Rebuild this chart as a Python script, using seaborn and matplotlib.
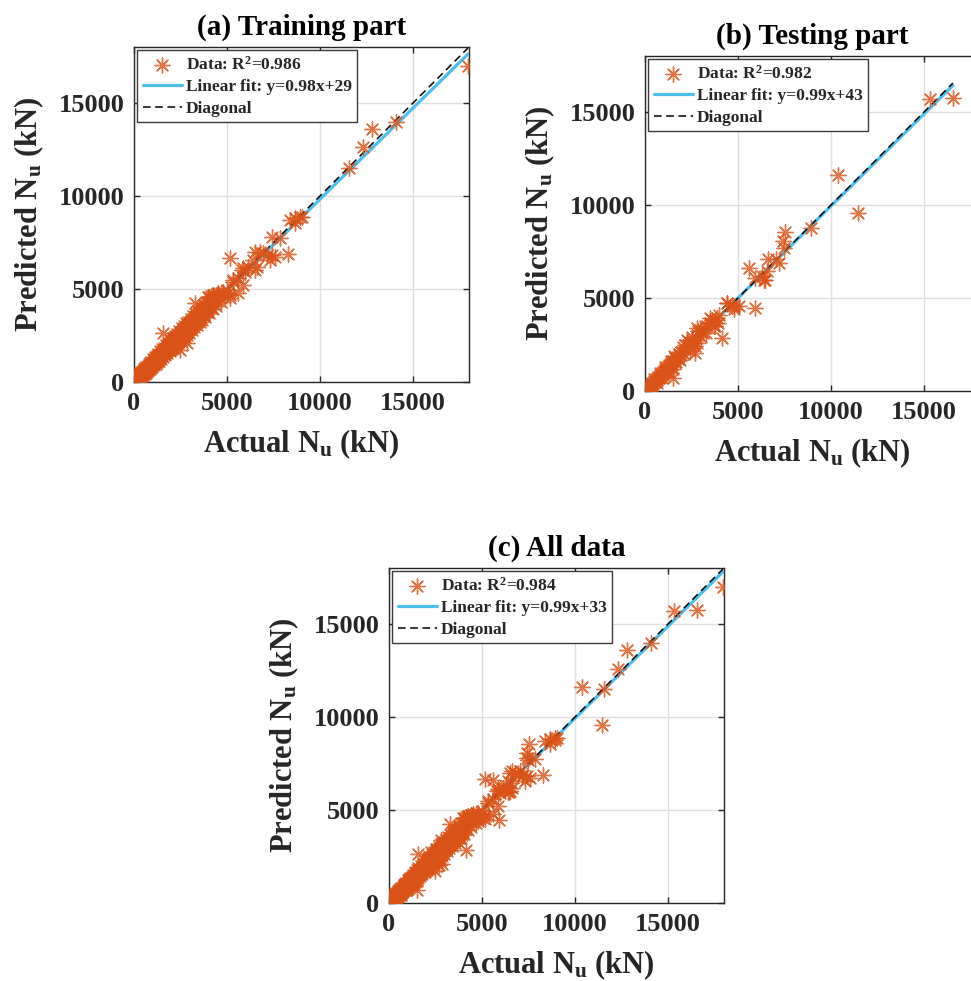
import numpy as np
import pandas as pd
import matplotlib
matplotlib.use("Agg")
import matplotlib.pyplot as plt
import seaborn as sns

# ---------------- data ----------------
train_actual = [
    50, 80, 100, 120, 150, 170, 200, 220, 250, 270, 300, 320, 350, 380, 400, 420,
    450, 480, 500, 520, 550, 580, 600, 630, 650, 680, 700, 720, 750, 780, 800, 820,
    850, 880, 900, 930, 950, 980, 1000, 1030, 1050, 1080, 1100, 1130, 1150, 1180,
    1200, 1230, 1250, 1280, 1300, 1340, 1370, 1400, 1430, 1460, 1500, 1530, 1560,
    1577, 1600, 1630, 1660, 1700, 1730, 1760, 1800, 1830, 1860, 1900, 1930, 1960,
    2000, 2030, 2060, 2100, 2130, 2160, 2200, 2230, 2260, 2300, 2340, 2380, 2420,
    2473, 2460, 2500, 2540, 2580, 2620, 2660, 2700, 2740, 2780, 2832, 2820, 2860,
    2900, 2940, 2980, 3020, 3060, 3100, 3140, 3180, 3220, 3260, 3280, 3300, 3340,
    3380, 3420, 3460, 3500, 3540, 3580, 3620, 3660, 3700, 3740, 3780, 3820, 3860,
    3900, 3940, 3994, 4000, 4050, 4100, 4150, 4200, 4250, 4300, 4400, 4446, 4500,
    4600, 4700, 4803, 4983, 5070, 5161, 5161, 5338, 5338, 5607, 5607, 5876, 5876,
    5790, 5967, 6145, 6505, 6596, 5161, 6505, 6774, 6952, 7134, 7400, 7580, 7311,
    6413, 7400, 7850, 8295, 8387, 8655, 8924, 8655, 9015, 11576, 12330, 12812,
    14085, 17940,
    60, 90, 130, 180, 210, 240, 280, 310, 340, 370, 410, 440, 470, 510, 540, 570,
    610, 640, 670, 710, 740, 770, 810, 840, 870, 910, 940, 970,
    1010, 1060, 1110, 1160, 1210, 1260, 1310, 1360, 1410, 1470, 1520, 1570, 1620,
    1680, 1740, 1790, 1850, 1910, 1970, 2020, 2080, 2140, 2190, 2250, 2320, 2370,
    2440, 2510,
    2560, 2610, 2680, 2730, 2790, 2850, 2910, 2970, 3040, 3110, 3170, 3240, 3310,
    3390, 3450, 3520, 3600, 3680, 3760, 3840, 3920, 4020, 4120, 4220, 4320, 4420,
    4520, 4650,
]
train_pred = [
    120, 60, 150, 90, 200, 130, 260, 180, 300, 230, 350, 280, 410, 330, 460, 370,
    520, 420, 560, 470, 620, 520, 650, 580, 720, 610, 760, 660, 800, 720, 870, 760,
    920, 800, 980, 860, 1020, 900, 1100, 950, 1120, 1000, 1180, 1060, 1250, 1100,
    1300, 1150, 1340, 1200, 1400, 1250, 1450, 1300, 1520, 1380, 1600, 1420, 1650,
    2617, 1500, 1720, 1560, 1800, 1620, 1900, 1700, 1950, 1760, 2050, 1820, 2100,
    1900, 2200, 1950, 2250, 2050, 2350, 2100, 2400, 2150, 2450, 2250, 2550, 2300,
    1720, 2600, 2400, 2700, 2450, 2800, 2550, 2850, 2600, 2950, 2080, 2700, 3050,
    2800, 3100, 2850, 3200, 2950, 3300, 3000, 3400, 3100, 3450, 4230, 3200, 3550,
    3250, 3650, 3350, 3700, 3400, 3800, 3500, 3900, 3600, 4000, 3650, 4100, 3750,
    4200, 3850, 4587, 4000, 4550, 4100, 4600, 4250, 4700, 4350, 4450, 4677, 4700,
    4500, 4800, 4855, 4946, 4770, 4500, 4677, 5484, 5392, 5575, 4770, 5215, 6112,
    6021, 5930, 6199, 6021, 6199, 6650, 7005, 7005, 6918, 6827, 6827, 6736, 6559,
    6559, 7780, 7725, 6881, 8709, 8800, 8888, 8530, 8888, 11520, 12600, 13600,
    13978, 16990,
    200, 30, 250, 60, 330, 120, 400, 200, 480, 250, 550, 330, 600, 380, 680, 430,
    740, 500, 800, 580, 880, 640, 950, 700, 1030, 780, 1100, 820,
    1250, 900, 1330, 980, 1420, 1070, 1530, 1150, 1650, 1250, 1760, 1350, 1850,
    1450, 1990, 1550, 2100, 1650, 2250, 1750, 2350, 1850, 2480, 1950, 2600, 2080,
    2750, 2200,
    2900, 2300, 3000, 2400, 3150, 2500, 3250, 2650, 3380, 2800, 3520, 2950, 3650,
    3050, 3800, 3200, 3950, 3350, 4150, 3500, 4300, 3700, 4450, 3900, 4600, 4100,
    4800, 4300,
]
test_actual = [
    80, 120, 160, 200, 250, 300, 350, 400, 450, 500, 550, 600, 650, 700, 750, 800,
    850, 900, 950, 1000, 1050, 1100, 1150, 1200, 1250, 1300, 1350, 1400, 1450, 1500,
    1528, 1600, 1650, 1700, 1760, 1870, 1950, 2050, 2100, 2230, 2300, 2450, 2517,
    2680, 2697, 2770, 2787, 2860, 2967, 3000, 3130, 3327, 3490, 3506, 3760, 3776,
    3850, 3940, 3955, 4118, 4387, 4405, 4657, 4765, 4800, 5035, 5574, 5933, 5933,
    6292, 6382, 6472, 6562, 6617, 7012, 7192, 7426, 7462, 7498, 8900, 10394, 11418,
    15319, 16543,
    180, 330, 480, 620, 780, 920, 1080, 1220, 1380, 1480, 1560, 1800, 1900, 2150,
    2400, 2550, 2620, 3200, 3300, 3600, 3700,
]
test_pred = [
    60, 150, 100, 230, 180, 320, 280, 450, 380, 540, 480, 650, 600, 760, 680, 850,
    800, 980, 880, 1080, 1000, 1200, 1100, 1300, 1180, 1420, 1280, 1500, 1380, 1620,
    685, 1762, 1550, 1850, 1700, 1942, 2100, 2390, 2000, 2750, 2400, 2600, 2751,
    2033, 2400, 2573, 3382, 3200, 3290, 2900, 3130, 3470, 3650, 3921, 3830, 3469,
    3920, 3650, 4099, 2843, 4730, 4730, 4549, 4549, 4400, 4549, 6618, 4460, 6079,
    6165, 5987, 5987, 6435, 7066, 7066, 6888, 8055, 7697, 8540, 8776, 11597, 9585,
    15697, 15733,
    300, 150, 620, 450, 950, 700, 1300, 1000, 1600, 1200, 1900, 2000, 1650, 2450,
    2150, 2900, 2600, 3500, 3100, 3800, 3500,
]

panel_titles = ["(a) Training part", "(b) Testing part", "(c) All data"]
r2_values = [0.986, 0.982, 0.984]
fit_slopes = [0.98, 0.99, 0.99]
fit_intercepts = [29, 43, 33]
tick_values = [0, 5000, 10000, 15000]
axis_limit = 18000

# ---------------- style ----------------
sns.set_style("white")
plt.rcParams["font.family"] = ["Liberation Serif", "DejaVu Serif"]
plt.rcParams["font.weight"] = "bold"
plt.rcParams["axes.labelweight"] = "bold"
plt.rcParams["axes.titleweight"] = "bold"
plt.rcParams["mathtext.fontset"] = "custom"
plt.rcParams["mathtext.rm"] = "Liberation Serif:bold"
plt.rcParams["mathtext.it"] = "Liberation Serif:bold"
plt.rcParams["mathtext.bf"] = "Liberation Serif:bold"
plt.rcParams["mathtext.default"] = "rm"

ORANGE = "#D95319"
BLUE = "#4DBEEE"
AXCOL = "#262626"

W, H = 971, 981
fig = plt.figure(figsize=(W / 100, H / 100), dpi=100)
fig.patch.set_facecolor("white")


def rect(left_px, bottom_px, size_px=335):
    return [left_px / W, 1 - bottom_px / H, size_px / W, size_px / H]


rects = [rect(134, 382), rect(645, 391), rect(389, 903)]
datasets = [
    (train_actual, train_pred),
    (test_actual, test_pred),
    (train_actual + test_actual, train_pred + test_pred),
]

for i in range(3):
    act = np.array(datasets[i][0], dtype=float)
    pred = np.array(datasets[i][1], dtype=float)
    ax = fig.add_axes(rects[i])
    df = pd.DataFrame({"actual": act, "predicted": pred})
    sns.scatterplot(data=df, x="actual", y="predicted", ax=ax,
                    marker=(8, 2, 0), s=120, color=ORANGE, linewidth=1.0,
                    alpha=0.8, zorder=5,
                    label="Data: R$^{2}$=%.3f" % r2_values[i])
    xf = np.array([act.min(), act.max()])
    fit_df = pd.DataFrame({"x": xf, "y": fit_slopes[i] * xf + fit_intercepts[i]})
    sns.lineplot(data=fit_df, x="x", y="y", ax=ax, color=BLUE, lw=2.3, zorder=3,
                 label="Linear fit: y=%.2fx+%d" % (fit_slopes[i], fit_intercepts[i]))
    diag_df = pd.DataFrame({"x": xf, "y": xf})
    sns.lineplot(data=diag_df, x="x", y="y", ax=ax, color="black", lw=1.1,
                 linestyle=(0, (5, 3)), zorder=4, label="Diagonal")

    ax.set_xlim(0, axis_limit)
    ax.set_ylim(0, axis_limit)
    ax.set_xticks(tick_values)
    ax.set_yticks(tick_values)
    ax.set_xticklabels([str(t) for t in tick_values])
    ax.set_yticklabels([str(t) for t in tick_values])
    ax.grid(True, color="#dedede", lw=1.0)
    ax.set_axisbelow(True)
    for sp in ax.spines.values():
        sp.set_color(AXCOL)
        sp.set_linewidth(1.0)
        sp.set_visible(True)
    ax.tick_params(direction="in", top=True, right=True, bottom=True, left=True,
                   length=4, width=1, color=AXCOL, labelcolor=AXCOL,
                   labelsize=19, pad=7)
    ax.set_xlabel("Actual N$_{u}$ (kN)", fontsize=22, color=AXCOL, labelpad=9)
    ax.set_ylabel("Predicted N$_{u}$ (kN)", fontsize=22, color=AXCOL, labelpad=9)
    ax.set_title(panel_titles[i], fontsize=21, color="black", pad=9)

    leg = ax.legend(loc="upper left",
                    prop=dict(family="Liberation Serif", weight="bold", size=12.5),
                    frameon=True, fancybox=False, edgecolor="#3a3a3a",
                    framealpha=1, borderaxespad=0.2, handlelength=2.25,
                    handletextpad=0.25, borderpad=0.3, labelspacing=0.32,
                    scatterpoints=1)
    leg.get_frame().set_linewidth(1.0)
    leg.set_zorder(10)

fig.savefig("out.png", dpi=100, facecolor="white")
